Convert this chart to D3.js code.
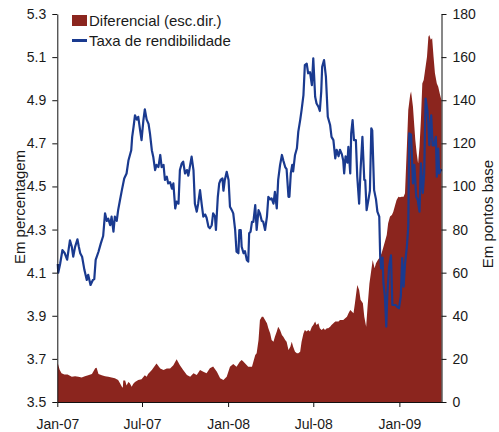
<!DOCTYPE html>
<html>
<head>
<meta charset="utf-8">
<script src="https://cdn.jsdelivr.net/npm/d3@7"></script>
<style>
  body { margin: 0; background: #ffffff; }
  text { font-family: "Liberation Sans", Arial, sans-serif; fill: #1a1a1a; }
</style>
</head>
<body>
<svg id="chart" width="499" height="432"></svg>
<script>
// 10-year government bond yield (left axis, %) and spread vs. benchmark (right axis, basis points)
const yieldDates = [
  "2007-01-02","2007-01-03","2007-01-07","2007-01-12","2007-01-17","2007-01-22","2007-01-28","2007-02-01",
  "2007-02-04","2007-02-08","2007-02-13","2007-02-16","2007-02-19","2007-02-23","2007-02-28","2007-03-05",
  "2007-03-08","2007-03-13","2007-03-18","2007-03-21","2007-03-24","2007-03-30","2007-04-04","2007-04-09",
  "2007-04-13","2007-04-17","2007-04-20","2007-04-24","2007-04-27","2007-05-01","2007-05-04","2007-05-08",
  "2007-05-11","2007-05-15","2007-05-19","2007-05-24","2007-05-29","2007-06-02","2007-06-08","2007-06-10",
  "2007-06-13","2007-06-16","2007-06-20","2007-06-23","2007-06-27","2007-06-30","2007-07-04","2007-07-07",
  "2007-07-11","2007-07-15","2007-07-18","2007-07-22","2007-07-25","2007-07-29","2007-08-01","2007-08-05",
  "2007-08-09","2007-08-12","2007-08-16","2007-08-19","2007-08-23","2007-08-26","2007-08-30","2007-09-03",
  "2007-09-06","2007-09-10","2007-09-13","2007-09-17","2007-09-20","2007-09-24","2007-09-27","2007-10-01",
  "2007-10-05","2007-10-08","2007-10-12","2007-10-15","2007-10-19","2007-10-22","2007-10-26","2007-10-29",
  "2007-11-02","2007-11-06","2007-11-09","2007-11-13","2007-11-16","2007-11-20","2007-11-23","2007-11-27",
  "2007-11-30","2007-12-04","2007-12-06","2007-12-10","2007-12-13","2007-12-16","2007-12-20","2007-12-22",
  "2007-12-25","2007-12-29","2008-01-02","2008-01-05","2008-01-09","2008-01-12","2008-01-16","2008-01-19",
  "2008-01-23","2008-01-25","2008-01-28","2008-01-30","2008-02-03","2008-02-06","2008-02-10","2008-02-13",
  "2008-02-15","2008-02-18","2008-02-21","2008-02-24","2008-02-28","2008-03-02","2008-03-06","2008-03-09",
  "2008-03-13","2008-03-16","2008-03-20","2008-03-24","2008-03-27","2008-03-31","2008-04-03","2008-04-07",
  "2008-04-10","2008-04-14","2008-04-17","2008-04-21","2008-04-25","2008-04-28","2008-05-02","2008-05-05",
  "2008-05-09","2008-05-11","2008-05-14","2008-05-17","2008-05-19","2008-05-23","2008-05-27","2008-05-30",
  "2008-06-03","2008-06-06","2008-06-10","2008-06-13","2008-06-17","2008-06-20","2008-06-24","2008-06-28",
  "2008-07-01","2008-07-05","2008-07-08","2008-07-12","2008-07-15","2008-07-18","2008-07-20","2008-07-24",
  "2008-07-28","2008-08-01","2008-08-06","2008-08-09","2008-08-13","2008-08-17","2008-08-20","2008-08-24",
  "2008-08-27","2008-08-31","2008-09-03","2008-09-05","2008-09-08","2008-09-12","2008-09-14","2008-09-18",
  "2008-09-20","2008-09-23","2008-09-26","2008-09-30","2008-10-03","2008-10-07","2008-10-10","2008-10-14",
  "2008-10-18","2008-10-20","2008-10-23","2008-10-27","2008-10-30","2008-11-02","2008-11-04","2008-11-08",
  "2008-11-12","2008-11-15","2008-11-19","2008-11-21","2008-11-23","2008-11-26","2008-11-28","2008-12-01",
  "2008-12-04","2008-12-06","2008-12-10","2008-12-14","2008-12-17","2008-12-21","2008-12-24","2008-12-28",
  "2008-12-31","2009-01-04","2009-01-07","2009-01-10","2009-01-13","2009-01-17","2009-01-20","2009-01-22",
  "2009-01-26","2009-01-30","2009-02-02","2009-02-06","2009-02-09","2009-02-13","2009-02-16","2009-02-20",
  "2009-02-23","2009-02-26","2009-03-02","2009-03-04","2009-03-06","2009-03-10","2009-03-13","2009-03-16",
  "2009-03-20","2009-03-22","2009-03-25","2009-03-27","2009-03-30","2009-04-01"
];
const yieldValues = [
  4.14,4.10,4.14,4.205,4.19,4.16,4.25,4.22,
  4.174,4.22,4.255,4.22,4.19,4.174,4.112,4.066,
  4.09,4.043,4.066,4.07,4.159,4.197,4.236,4.27,
  4.375,4.34,4.35,4.32,4.36,4.29,4.36,4.34,
  4.39,4.437,4.483,4.537,4.56,4.62,4.668,4.73,
  4.777,4.83,4.81,4.823,4.76,4.715,4.808,4.858,
  4.81,4.79,4.746,4.668,4.638,4.576,4.60,4.59,
  4.646,4.59,4.60,4.53,4.545,4.514,4.52,4.49,
  4.514,4.398,4.43,4.42,4.576,4.607,4.615,4.56,
  4.576,4.55,4.60,4.638,4.576,4.42,4.383,4.42,
  4.483,4.41,4.36,4.37,4.355,4.313,4.306,4.32,
  4.375,4.36,4.298,4.452,4.514,4.53,4.537,4.48,
  4.53,4.568,4.53,4.406,4.39,4.375,4.30,4.197,
  4.19,4.298,4.298,4.22,4.19,4.20,4.159,4.151,
  4.283,4.29,4.336,4.336,4.414,4.298,4.39,4.375,
  4.34,4.336,4.298,4.36,4.452,4.44,4.445,4.42,
  4.475,4.398,4.53,4.599,4.646,4.62,4.59,4.58,
  4.452,4.452,4.561,4.60,4.57,4.646,4.677,4.754,
  4.808,4.854,4.924,5.063,5.07,5.025,5.03,4.97,
  5.094,4.916,4.885,4.87,4.85,4.94,5.055,5.086,
  5.009,4.823,4.785,4.73,4.715,4.63,4.67,4.64,
  4.67,4.65,4.62,4.56,4.64,4.61,4.684,4.56,
  4.746,4.808,4.715,4.715,4.545,4.42,4.576,4.73,
  4.53,4.53,4.39,4.44,4.48,4.77,4.76,4.483,
  4.44,4.383,4.36,4.174,4.12,4.17,4.05,3.99,
  3.85,3.99,4.127,4.18,3.95,3.95,3.95,3.94,
  3.935,3.99,4.167,4.035,4.14,4.22,4.313,4.746,
  4.74,4.514,4.60,4.452,4.44,4.383,4.607,4.47,
  4.56,4.908,4.85,4.793,4.692,4.83,4.69,4.69,
  4.73,4.545,4.676,4.56,4.575,4.58
];

const spreadDates = [
  "2007-01-02","2007-01-03","2007-01-06","2007-01-10","2007-01-16","2007-01-23","2007-02-01","2007-02-08",
  "2007-02-15","2007-02-22","2007-03-01","2007-03-08","2007-03-16","2007-03-23","2007-03-26","2007-03-30",
  "2007-04-06","2007-04-13","2007-04-20","2007-04-27","2007-05-04","2007-05-11","2007-05-15","2007-05-19",
  "2007-05-21","2007-05-22","2007-05-26","2007-05-29","2007-06-02","2007-06-05","2007-06-09","2007-06-12",
  "2007-06-16","2007-06-23","2007-06-30","2007-07-07","2007-07-11","2007-07-14","2007-07-22","2007-07-27",
  "2007-08-01","2007-08-09","2007-08-16","2007-08-23","2007-08-30","2007-09-06","2007-09-13","2007-09-20",
  "2007-09-27","2007-10-05","2007-10-12","2007-10-19","2007-10-26","2007-11-02","2007-11-09","2007-11-16",
  "2007-11-23","2007-11-30","2007-12-08","2007-12-15","2007-12-22","2007-12-29","2008-01-05","2008-01-12",
  "2008-01-19","2008-01-26","2008-01-30","2008-02-03","2008-02-10","2008-02-13","2008-02-21","2008-02-28",
  "2008-03-02","2008-03-06","2008-03-09","2008-03-13","2008-03-16","2008-03-20","2008-03-24","2008-03-27",
  "2008-03-31","2008-04-03","2008-04-07","2008-04-10","2008-04-14","2008-04-17","2008-04-21","2008-04-25",
  "2008-04-28","2008-05-02","2008-05-05","2008-05-09","2008-05-13","2008-05-16","2008-05-19","2008-05-23",
  "2008-05-27","2008-05-30","2008-06-03","2008-06-06","2008-06-10","2008-06-13","2008-06-17","2008-06-20",
  "2008-06-24","2008-06-28","2008-07-01","2008-07-05","2008-07-08","2008-07-12","2008-07-15","2008-07-19",
  "2008-07-23","2008-07-26","2008-07-30","2008-08-02","2008-08-06","2008-08-09","2008-08-13","2008-08-17",
  "2008-08-24","2008-08-27","2008-09-03","2008-09-11","2008-09-14","2008-09-18","2008-09-25","2008-09-28",
  "2008-10-03","2008-10-07","2008-10-10","2008-10-15","2008-10-18","2008-10-22","2008-10-25","2008-10-29",
  "2008-11-02","2008-11-05","2008-11-09","2008-11-12","2008-11-16","2008-11-21","2008-11-24","2008-11-28",
  "2008-12-01","2008-12-05","2008-12-08","2008-12-12","2008-12-16","2008-12-19","2008-12-23","2008-12-26",
  "2008-12-30","2009-01-02","2009-01-06","2009-01-10","2009-01-13","2009-01-17","2009-01-20","2009-01-24",
  "2009-01-26","2009-01-30","2009-02-02","2009-02-04","2009-02-07","2009-02-10","2009-02-13","2009-02-16",
  "2009-02-19","2009-02-22","2009-02-25","2009-03-01","2009-03-04","2009-03-06","2009-03-09","2009-03-12",
  "2009-03-15","2009-03-18","2009-03-22","2009-03-25","2009-03-29","2009-04-01"
];
const spreadValues = [
  18,17.3,15,13.3,12.8,12.8,11.7,12,
  11.7,11.4,12,12.4,13,15.6,15.9,13,
  12.4,12,11.7,11.4,11,10.2,8.7,7.1,
  6.6,10,10,7.7,9.3,8.7,7.1,8.4,
  9.3,10.2,10.5,12.4,11.7,13,14.8,16.3,
  17.9,15.5,14.8,15.5,15.5,17,19.8,17,
  14.8,12.5,11.7,13.3,12.5,14.8,14,13.3,
  15.6,16.5,14,11,10.2,11.7,16.4,17.6,
  16.4,18.7,19.5,18.7,17,16.4,16.4,21.8,
  22.6,28.8,38,39.6,39.6,38,36.5,34.2,
  31.8,28.8,28,30.3,32.7,34.9,33.4,31.1,
  30.3,28.8,28,24.1,25.6,28,25.6,23.3,
  22.6,22.6,23.3,28,31.8,33.4,32.7,33.4,
  32.7,34.9,35.7,37.3,35.7,36.5,34.2,33.4,
  34.2,33.4,34.2,34.2,34.9,35.7,36.5,37.3,
  37.3,38,38,39.6,41,42.7,41.2,45.8,
  54.3,52,47.4,45.8,39.6,34.9,44.2,55,
  61.2,65.9,62,64.4,65.9,67.4,69,72,
  74.4,77.5,82.9,86,86.7,88.3,91.4,93.7,
  95.2,95,95.2,95.2,96.8,118.4,135.5,142.4,
  144,137,127.7,121.5,115.4,110.7,118.4,130.8,
  147.8,149.4,154,160.2,169.5,170.3,168,168.7,
  160.2,152.5,147.8,146.3,142.4,140
];

const leftTicks = [3.5, 3.7, 3.9, 4.1, 4.3, 4.5, 4.7, 4.9, 5.1, 5.3];
const rightTicks = [0, 20, 40, 60, 80, 100, 120, 140, 160, 180];
const dateTicks = ["2007-01-01", "2007-07-01", "2008-01-01", "2008-07-01", "2009-01-01"];
const seriesNames = ["Diferencial (esc.dir.)", "Taxa de rendibilidade"];
const axisTitles = ["Em percentagem", "Em pontos base"];

const parse = d3.utcParse("%Y-%m-%d");
const spreadData = spreadDates.map((d, i) => ({ date: parse(d), value: spreadValues[i] }));
const yieldData = yieldDates.map((d, i) => ({ date: parse(d), value: yieldValues[i] }));

const plot = { left: 57.3, right: 441.5, top: 14, bottom: 402 };
const red = "#8b251e";
const blue = "#1a3a8f";

const x = d3.scaleUtc()
  .domain([parse("2007-01-01"), parse("2009-04-01")])
  .range([plot.left, plot.right]);
const yLeft = d3.scaleLinear().domain([3.5, 5.3]).range([plot.bottom, plot.top]);
const yRight = d3.scaleLinear().domain([0, 180]).range([plot.bottom, plot.top]);

const svg = d3.select("#chart");

// spread as a filled area on the right scale
svg.append("path")
  .datum(spreadData)
  .attr("fill", red)
  .attr("d", d3.area()
    .x(d => x(d.date))
    .y0(yRight(0))
    .y1(d => yRight(d.value)));

// yield as a line on the left scale
svg.append("path")
  .datum(yieldData)
  .attr("fill", "none")
  .attr("stroke", blue)
  .attr("stroke-width", 2.2)
  .attr("stroke-linejoin", "round")
  .attr("d", d3.line()
    .x(d => x(d.date))
    .y(d => yLeft(d.value)));

const fmtMonth = d3.utcFormat("%b-%y");
const monthPt = { Jan: "Jan", Jul: "Jul" };

function styleAxis(g, size) {
  g.selectAll("path.domain").attr("stroke", "#111").attr("stroke-width", 1);
  g.selectAll(".tick line").attr("stroke", "#111");
  g.selectAll(".tick text")
    .attr("fill", "#1a1a1a")
    .style("font-family", '"Liberation Sans", Arial, sans-serif')
    .style("font-size", size + "px");
}

svg.append("g")
  .attr("transform", `translate(0,${plot.bottom})`)
  .call(d3.axisBottom(x)
    .tickValues(dateTicks.map(parse))
    .tickFormat(d => fmtMonth(d))
    .tickSize(5).tickSizeOuter(0).tickPadding(12))
  .call(g => styleAxis(g, 14));

svg.append("g")
  .attr("transform", `translate(${plot.left},0)`)
  .call(d3.axisLeft(yLeft)
    .tickValues(leftTicks)
    .tickFormat(d3.format(".1f"))
    .tickSize(5).tickSizeOuter(0).tickPadding(6))
  .call(g => styleAxis(g, 14));

svg.append("g")
  .attr("transform", `translate(${plot.right},0)`)
  .call(d3.axisRight(yRight)
    .tickValues(rightTicks)
    .tickFormat(d3.format("d"))
    .tickSize(5).tickSizeOuter(0).tickPadding(6))
  .call(g => styleAxis(g, 14));

// axis titles
svg.append("text")
  .attr("transform", "translate(25,207) rotate(-90)")
  .attr("text-anchor", "middle")
  .style("font-size", "15px")
  .text(axisTitles[0]);
svg.append("text")
  .attr("transform", "translate(493,214) rotate(-90)")
  .attr("text-anchor", "middle")
  .style("font-size", "15px")
  .text(axisTitles[1]);

// legend
const legend = svg.append("g");
legend.append("rect")
  .attr("x", 72).attr("y", 15).attr("width", 15).attr("height", 11)
  .attr("fill", red);
legend.append("text")
  .attr("x", 89).attr("y", 26)
  .style("font-size", "15px")
  .text(seriesNames[0]);
legend.append("line")
  .attr("x1", 72).attr("x2", 87).attr("y1", 40.5).attr("y2", 40.5)
  .attr("stroke", blue).attr("stroke-width", 3);
legend.append("text")
  .attr("x", 89).attr("y", 46)
  .style("font-size", "15px")
  .text(seriesNames[1]);
</script>
</body>
</html>
